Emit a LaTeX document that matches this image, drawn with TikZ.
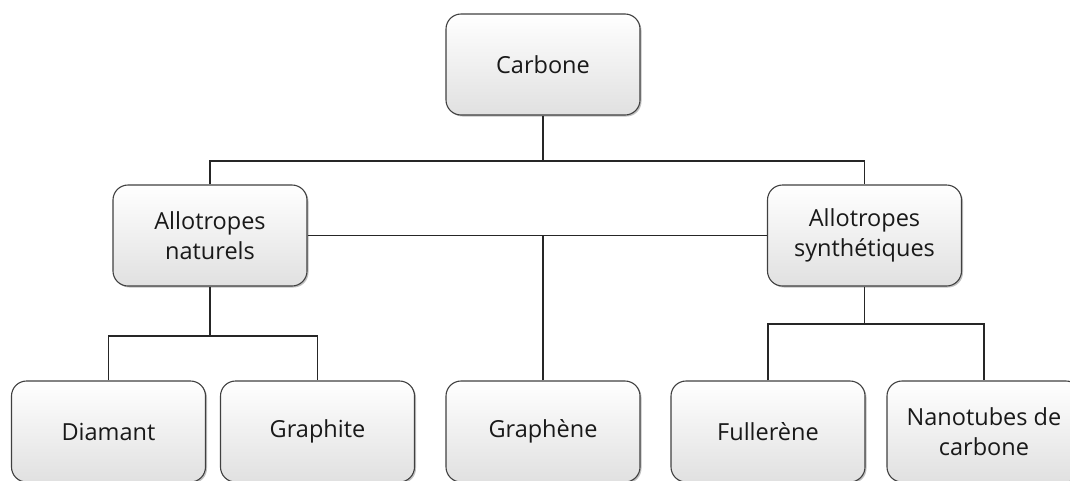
\documentclass[tikz,border=0pt]{standalone}
\usepackage{fontspec}
\setmainfont{Open Sans}
\usetikzlibrary{positioning, shadows}

\begin{document}
\begin{tikzpicture}[x=1pt,y=-1pt,
  box/.style={draw=black!75, line width=1.1pt, rounded corners=15pt,
    minimum width=194pt, minimum height=101pt, align=center,
    top color=white, bottom color=black!12,
    drop shadow={shadow xshift=1.5pt, shadow yshift=-1.5pt, opacity=.35, fill=black!70},
    font=\fontsize{23.5}{30}\selectfont, text=black!90},
  link/.style={line width=1.3pt, black!85}]
\useasboundingbox (0,0) rectangle (1070,480);
\node (carbone) at (543,64.5) [box] {Carbone};
\node (naturels) at (210,235.5) [box] {Allotropes\\naturels};
\node (synth) at (864.5,235.5) [box] {Allotropes\\synthétiques};
\node (diamant) at (108.5,431.5) [box] {Diamant};
\node (graphite) at (317.5,431.5) [box] {Graphite};
\node (graphene) at (543,431.5) [box] {Graphène};
\node (fullerene) at (768,431.5) [box] {Fullerène};
\node (nanotubes) at (984,431.5) [box] {Nanotubes de\\carbone};
\coordinate (topbar) at (543,161);
\coordinate (natbar) at (210,336);
\coordinate (synbar) at (864.5,324);
\draw[link] (carbone.south) -- (topbar);
\draw[link] (naturels.north) |- (topbar) -| (synth.north);
\draw[link] (naturels.east) -- (synth.west);
\draw[link] (graphene.north) -- (graphene.north |- naturels.east);
\draw[link] (naturels.south) -- (natbar);
\draw[link] (diamant.north) |- (natbar) -| (graphite.north);
\draw[link] (synth.south) -- (synbar);
\draw[link] (fullerene.north) |- (synbar) -| (nanotubes.north);
\end{tikzpicture}
\end{document}
